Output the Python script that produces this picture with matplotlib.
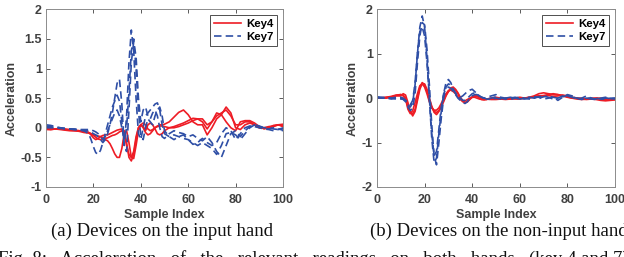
import numpy as np
import matplotlib
matplotlib.use("Agg")
import matplotlib.pyplot as plt

# sample indices (denser around the impulse)
xa = np.r_[0:18:2, 18:51, 52:101:2]
xb = np.r_[0:10:2, 10:46, 46:101:2]

# ---- panel (a): devices on the input hand ----
a_key4 = [
    [0.0, -0.02, -0.02, -0.01, -0.02, -0.03, -0.04, -0.05, -0.06,
     -0.08, -0.1, -0.13, -0.16, -0.19, -0.2, -0.2, -0.2, -0.22, -0.27, -0.35, -0.44, -0.5, -0.5,
     -0.35, -0.1, -0.05, -0.25, -0.5, -0.52, -0.3, -0.05, 0.05, 0.08, 0.05, -0.02, -0.05, -0.03,
     0.0, 0.02, 0.03, 0.03, 0.02,
     0.0, 0.0, 0.02, 0.05, 0.08, 0.12, 0.15, 0.15, 0.05, 0.1, 0.2, 0.25, 0.3, 0.2, 0.05, 0.05,
     0.1, 0.1, 0.05, 0.0, 0.0, 0.02, 0.03, 0.05, 0.03],
    [-0.02, -0.03, -0.02, -0.02, -0.03, -0.04, -0.05, -0.05, -0.06,
     -0.08, -0.12, -0.17, -0.2, -0.18, -0.15, -0.13, -0.12, -0.12, -0.1, -0.08, -0.06, -0.04, -0.03,
     -0.02, -0.05, -0.25, -0.5, -0.56, -0.45, -0.2, 0.0, 0.05, 0.0, -0.08, -0.12, -0.1, -0.05,
     0.0, 0.03, 0.05, 0.05, 0.06,
     0.1, 0.18, 0.26, 0.3, 0.22, 0.1, 0.05, 0.05, -0.12, 0.0, 0.15, 0.22, 0.35, 0.25, 0.0, -0.03,
     0.05, 0.08, 0.05, 0.0, 0.0, 0.0, 0.02, 0.05, 0.06],
    [-0.03, -0.03, -0.02, -0.03, -0.04, -0.05, -0.05, -0.06, -0.08,
     -0.09, -0.1, -0.12, -0.13, -0.14, -0.15, -0.17, -0.18, -0.17, -0.15, -0.13, -0.12, -0.1, -0.07,
     -0.05, -0.1, -0.3, -0.45, -0.5, -0.4, -0.15, 0.0, 0.05, 0.02, -0.05, 0.05, 0.08, 0.05,
     -0.02, -0.1, -0.12, -0.1, -0.05,
     0.0, 0.02, 0.05, 0.08, 0.12, 0.16, 0.15, 0.1, -0.02, 0.1, 0.25, 0.22, 0.1, 0.0, -0.05, 0.1,
     0.12, 0.12, 0.08, 0.02, -0.02, 0.0, 0.04, 0.05, 0.02],
]
a_key7 = [
    [0.03, 0.02, 0.0, 0.0, -0.01, -0.02, -0.02, -0.03, -0.05,
     -0.1, -0.2, -0.32, -0.42, -0.45, -0.38, -0.25, -0.1, 0.05, 0.2, 0.35, 0.45, 0.55, 0.45,
     0.1, -0.3, 0.2, 1.1, 1.65, 1.3, 0.5, -0.1, -0.2, 0.0, 0.2, 0.25, 0.3, 0.35,
     0.4, 0.42, 0.3, 0.05, -0.1,
     -0.15, -0.12, -0.15, -0.18, -0.2, -0.25, -0.3, -0.25, -0.3, -0.35, -0.45, -0.3, -0.1, -0.08,
     -0.12, -0.2, -0.1, 0.0, 0.05, 0.02, 0.0, 0.0, -0.02, -0.03, -0.05],
    [0.0, 0.0, 0.0, -0.01, -0.02, -0.02, -0.03, -0.04, -0.05,
     -0.05, -0.07, -0.1, -0.12, -0.15, -0.2, -0.25, -0.2, -0.1, 0.05, 0.25, 0.5, 0.75, 0.82,
     0.4, -0.3, -0.4, 0.3, 1.1, 1.45, 1.2, 0.5, 0.1, 0.3, 0.35, 0.2, 0.15, 0.25,
     0.3, 0.2, 0.0, -0.15, -0.18,
     -0.1, -0.05, -0.08, -0.1, -0.15, -0.12, -0.18, -0.22, -0.15, -0.25, -0.4, -0.5, -0.3, -0.1,
     -0.05, -0.15, -0.05, 0.02, 0.05, 0.03, 0.0, -0.02, 0.0, -0.02, -0.04],
    [0.05, 0.04, 0.02, 0.0, -0.01, -0.02, -0.03, -0.03, -0.03,
     -0.03, -0.04, -0.05, -0.07, -0.1, -0.15, -0.2, -0.15, -0.05, 0.05, 0.15, 0.25, 0.3, 0.2,
     0.0, -0.2, 0.0, 0.6, 1.3, 1.5, 1.0, 0.3, -0.15, -0.2, 0.0, 0.15, 0.1, 0.05,
     0.2, 0.3, 0.35, 0.2, -0.05,
     -0.15, -0.2, -0.15, -0.12, -0.2, -0.28, -0.25, -0.18, -0.25, -0.3, -0.25, -0.1, 0.0, -0.05,
     -0.2, -0.1, 0.0, 0.03, 0.02, 0.0, -0.02, -0.03, -0.05, -0.03, 0.0],
]

# ---- panel (b): devices on the non-input hand ----
b_key4 = [
    [0.0, 0.0, 0.0, 0.02, 0.06,
     0.08, 0.07, 0.0, -0.2, -0.32, -0.35, -0.25, 0.0, 0.25, 0.35, 0.3, 0.15, -0.05, -0.2, -0.3,
     -0.32, -0.28, -0.18, -0.05, 0.07, 0.15, 0.2, 0.22, 0.18, 0.1, 0.0, -0.08, -0.1, -0.08, -0.03,
     0.02, 0.05, 0.05, 0.03, 0.0, -0.02,
     -0.03, 0.0, 0.02, 0.0, -0.02, -0.02, 0.0, 0.0, 0.0, 0.02, 0.05, 0.1, 0.12, 0.1, 0.08, 0.08,
     0.06, 0.03, 0.0, -0.02, -0.03, -0.02, 0.0, 0.0, -0.02, -0.03, -0.03, -0.02],
    [0.0, 0.0, 0.02, 0.03, 0.05,
     0.05, 0.1, 0.07, -0.1, -0.3, -0.4, -0.3, -0.05, 0.2, 0.33, 0.32, 0.2, 0.0, -0.18, -0.32,
     -0.37, -0.3, -0.2, -0.08, 0.05, 0.15, 0.23, 0.25, 0.2, 0.12, 0.02, -0.05, -0.1, -0.08, -0.02,
     0.03, 0.05, 0.04, 0.0, -0.03, -0.04,
     -0.03, 0.0, 0.0, -0.02, -0.03, -0.02, 0.0, 0.02, 0.0, 0.0, 0.03, 0.05, 0.06, 0.08, 0.1, 0.08,
     0.05, 0.02, 0.0, 0.0, -0.02, -0.03, -0.02, -0.03, -0.05, -0.06, -0.05, -0.04],
    [0.0, 0.01, 0.02, 0.04, 0.07,
     0.08, 0.05, -0.02, -0.25, -0.35, -0.28, -0.1, 0.1, 0.28, 0.32, 0.25, 0.1, -0.08, -0.22, -0.27,
     -0.27, -0.22, -0.12, 0.0, 0.1, 0.17, 0.18, 0.15, 0.1, 0.03, -0.03, -0.07, -0.06, -0.03, 0.0,
     0.02, 0.02, 0.0, -0.02, -0.03, -0.03,
     -0.02, -0.03, -0.03, -0.02, 0.0, 0.0, -0.02, -0.02, 0.0, 0.02, 0.03, 0.05, 0.05, 0.06, 0.04,
     0.05, 0.07, 0.05, 0.02, 0.0, 0.0, -0.02, -0.02, 0.0, 0.0, -0.01, -0.02, -0.03],
]
b_key7 = [
    [0.02, 0.0, 0.0, -0.02, 0.0,
     0.02, 0.0, -0.05, -0.15, -0.2, -0.1, 0.3, 1.0, 1.6, 1.85, 1.6, 0.9, 0.0, -0.9, -1.45,
     -1.35, -0.8, -0.3, 0.1, 0.35, 0.42, 0.35, 0.2, 0.1, 0.05, 0.02, 0.05, 0.1, 0.15, 0.18,
     0.2, 0.15, 0.1, 0.05, 0.02, 0.0,
     0.02, 0.05, 0.08, 0.0, -0.02, 0.0, 0.02, 0.0, -0.02, 0.0, 0.03, 0.02, -0.02, 0.0, 0.03,
     -0.05, 0.02, 0.08, 0.05, 0.0, -0.03, 0.0, -0.02, -0.03, 0.0, 0.02, -0.02, 0.0],
    [0.03, 0.02, 0.0, 0.0, 0.02,
     0.0, -0.03, -0.08, -0.2, -0.28, -0.22, 0.1, 0.8, 1.4, 1.7, 1.65, 1.1, 0.3, -0.6, -1.3,
     -1.5, -1.0, -0.45, 0.0, 0.25, 0.32, 0.3, 0.2, 0.12, 0.05, 0.0, -0.05, -0.05, 0.0, 0.05,
     0.1, 0.12, 0.1, 0.05, 0.02, 0.0,
     -0.02, 0.0, 0.03, 0.02, 0.0, -0.03, 0.0, 0.02, 0.0, -0.02, 0.0, 0.03, 0.05, 0.02, -0.02,
     0.0, 0.05, 0.05, 0.02, -0.02, 0.0, 0.05, 0.0, -0.02, -0.03, 0.0, 0.0, -0.02],
    [0.0, 0.01, 0.02, 0.0, -0.02,
     -0.02, -0.02, -0.05, -0.1, -0.15, -0.05, 0.35, 1.05, 1.5, 1.6, 1.4, 0.8, 0.0, -0.8, -1.3,
     -1.2, -0.7, -0.2, 0.1, 0.2, 0.25, 0.22, 0.15, 0.08, 0.0, -0.05, -0.1, -0.12, -0.08, 0.0,
     0.05, 0.08, 0.08, 0.05, 0.02, 0.0,
     -0.02, -0.03, 0.0, -0.02, 0.0, 0.02, 0.0, -0.02, 0.0, 0.02, 0.0, 0.0, 0.03, 0.05, 0.02,
     0.0, 0.03, 0.06, 0.03, 0.0, -0.02, 0.0, 0.0, 0.0, -0.02, -0.02, 0.0, 0.0],
]

xticks = [0, 20, 40, 60, 80, 100]
yticks_a = [-1, -0.5, 0, 0.5, 1, 1.5, 2]
ylabels_a = ["-1", "-0.5", "0", "0.5", "1", "1.5", "2"]
yticks_b = [-2, -1, 0, 1, 2]

RED = "#ee1c25"
BLUE = "#2f4fa6"
GRAY = "#404040"

plt.rcParams["font.family"] = ["Liberation Sans", "DejaVu Sans"]
plt.rcParams["font.weight"] = "bold"

fig = plt.figure(figsize=(6.24, 2.57), dpi=100)
ax_a = fig.add_axes([46 / 624, 1 - 187 / 257, 237 / 624, 177.7 / 257])
ax_b = fig.add_axes([377 / 624, 1 - 187 / 257, 238 / 624, 177.7 / 257])


def dibujar(ax, x, key4, key7, yticks, ylabels, ylim):
    for i, y in enumerate(key4):
        ax.plot(x, y, color=RED, lw=1.2, label="Key4" if i == 0 else None)
    for i, y in enumerate(key7):
        ax.plot(x, y, color=BLUE, lw=1.2, ls=(0, (4.5, 2.5)),
                label="Key7" if i == 0 else None)
    ax.set_xlim(0, 100)
    ax.set_ylim(*ylim)
    ax.set_xticks(xticks)
    ax.set_yticks(yticks)
    ax.set_yticklabels(ylabels)
    ax.tick_params(direction="in", length=3, width=0.6, colors=GRAY,
                   labelsize=9, top=True, right=True, pad=3)
    ax.tick_params(axis="x", pad=5)
    for lab in ax.get_xticklabels() + ax.get_yticklabels():
        lab.set_fontweight("bold")
    for sp in ax.spines.values():
        sp.set_color("#8c8c8c")
        sp.set_linewidth(0.7)
    ax.set_xlabel("Sample Index", fontsize=9, fontweight="bold", color=GRAY, labelpad=2)
    ax.set_ylabel("Acceleration", fontsize=9, fontweight="bold", color=GRAY, labelpad=2)
    leg = ax.legend(loc="upper right", fontsize=8.2, frameon=True, fancybox=False,
                    handlelength=2.4, borderaxespad=0.5, borderpad=0.35,
                    labelspacing=0.25, handletextpad=0.4)
    leg.get_frame().set_edgecolor("#222222")
    leg.get_frame().set_linewidth(0.7)
    for t in leg.get_texts():
        t.set_fontweight("bold")


dibujar(ax_a, xa, a_key4, a_key7, yticks_a, ylabels_a, (-1, 2))
dibujar(ax_b, xb, b_key4, b_key7, yticks_b, [str(v) for v in yticks_b], (-2, 2))

serif = ["Liberation Serif", "DejaVu Serif"]
fig.text(162 / 624, 1 - 231 / 257, "(a) Devices on the input hand", ha="center", va="center",
         fontsize=13.5, family=serif, fontweight="normal", color="#111111")
fig.text(370 / 624, 1 - 231 / 257, "(b) Devices on the non-input hand", ha="left", va="center",
         fontsize=13.5, family=serif, fontweight="normal", color="#111111")
fig.text(-2 / 624, 1 - 263.5 / 257,
         "Fig. 8:   Acceleration   of   the   relevant   readings   on   both   hands   (key 4 and 7)",
         ha="left", va="baseline", fontsize=13.5, family=serif, fontweight="normal", color="#111111")

fig.savefig("out.png", dpi=100)
